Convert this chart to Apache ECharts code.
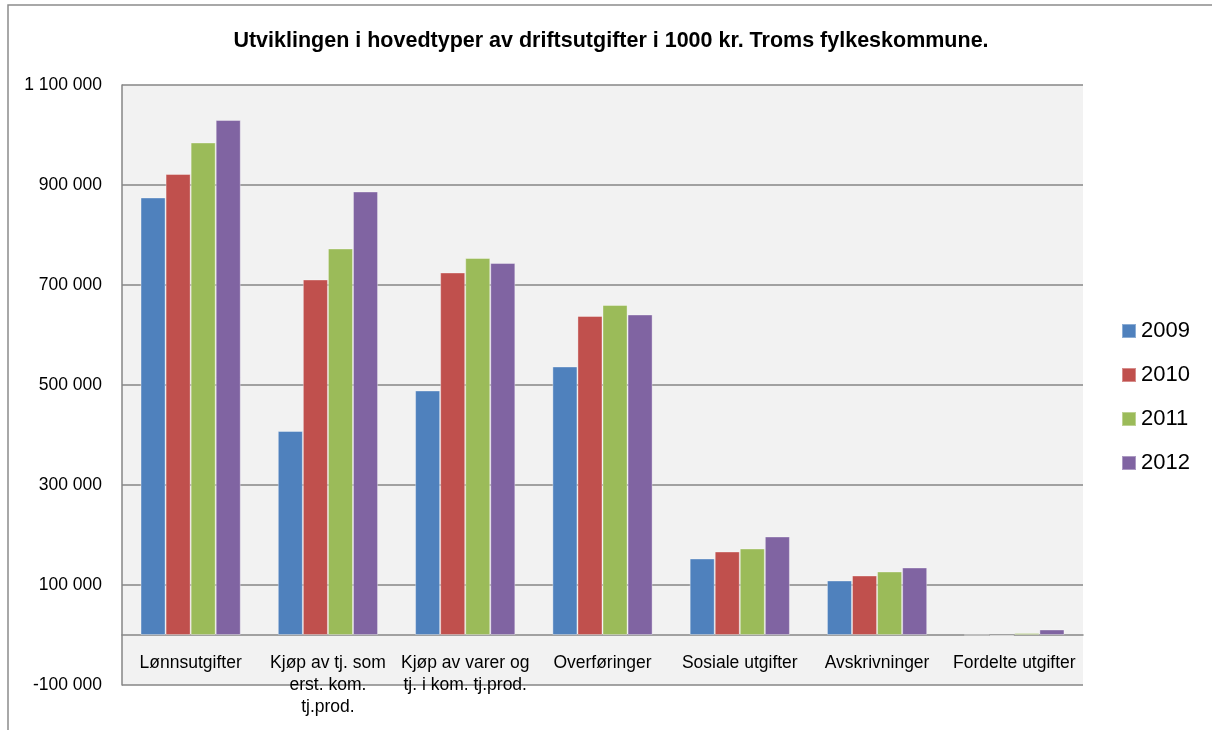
<!DOCTYPE html>
<html>
<head>
<meta charset="utf-8">
<script src="https://cdn.jsdelivr.net/npm/echarts@6/dist/echarts.min.js"></script>
<style>
  html, body { margin: 0; padding: 0; background: #fff; overflow: hidden; }
  #chart { width: 1212px; height: 730px; }
</style>
</head>
<body>
<div id="chart"></div>
<script>
// kategorier og verdier (1000 kr)
const categories = [
  "Lønnsutgifter",
  "Kjøp av tj. som\nerst. kom.\ntj.prod.",
  "Kjøp av varer og\ntj. i kom. tj.prod.",
  "Overføringer",
  "Sosiale utgifter",
  "Avskrivninger",
  "Fordelte utgifter",
];
const years = ["2009", "2010", "2011", "2012"];
const v2009 = [875000, 408000, 489000, 537000, 153000, 109000, 0];
const v2010 = [922000, 711000, 725000, 638000, 167000, 119000, -2000];
const v2011 = [985000, 773000, 754000, 660000, 173000, 127000, 4000];
const v2012 = [1030000, 887000, 744000, 641000, 197000, 135000, 11000];
const yTicks = [-100000, 100000, 300000, 500000, 700000, 900000, 1100000];

const colors = ["#4F81BD", "#C0504D", "#9BBB59", "#8064A2"];
const values = [v2009, v2010, v2011, v2012];
const font = "'Liberation Sans', Arial, sans-serif";

// tall med mellomrom som tusenskille
const fmt = (v) => {
  const neg = v < 0;
  const s = String(Math.abs(v)).replace(/\B(?=(\d{3})+(?!\d))/g, " ");
  return (neg ? "-" : "") + s;
};

const chart = echarts.init(document.getElementById("chart"));

const option = {
  backgroundColor: "#fff",
  animation: false,
  color: colors,
  graphic: [
    {
      type: "rect",
      shape: { x: 8, y: 5, width: 1300, height: 800 },
      style: { fill: "none", stroke: "#8c8c8c", lineWidth: 1.5 },
      silent: true,
    },
  ],
  title: {
    text: "Utviklingen i hovedtyper av driftsutgifter i 1000 kr. Troms fylkeskommune.",
    left: 611,
    textAlign: "center",
    top: 30,
    padding: 0,
    textStyle: { fontFamily: font, fontSize: 21.5, fontWeight: "bold", color: "#000" },
  },
  legend: {
    orient: "vertical",
    left: 1116,
    top: 315,
    itemWidth: 14,
    itemHeight: 14,
    itemGap: 22,
    icon: "rect",
    data: years,
    textStyle: { fontFamily: font, fontSize: 22, color: "#000" },
  },
  grid: {
    left: 122,
    right: 129,
    top: 85,
    bottom: 45,
    show: true,
    backgroundColor: "#F2F2F2",
    borderWidth: 0,
    containLabel: false,
    outerBoundsMode: "none",
  },
  xAxis: {
    type: "category",
    data: categories,
    axisLine: { onZero: true, lineStyle: { color: "#868686", width: 1.5 } },
    axisTick: { show: false },
    axisLabel: {
      fontFamily: font,
      fontSize: 17.5,
      color: "#000",
      lineHeight: 22,
      margin: -33,
      interval: 0,
    },
  },
  yAxis: {
    type: "value",
    min: -100000,
    max: 1100000,
    axisLine: { show: true, lineStyle: { color: "#868686", width: 1.5 } },
    axisTick: { show: false, customValues: yTicks },
    axisLabel: {
      customValues: yTicks,
      fontFamily: font,
      fontSize: 17.5,
      color: "#000",
      margin: 20,
      formatter: (v) => fmt(v),
    },
    splitLine: { show: true, lineStyle: { color: "#868686", width: 1.5 } },
  },
  series: years.map((y, i) => ({
    name: y,
    type: "bar",
    data: values[i],
    barGap: "0%",
    barCategoryGap: "27%",
    itemStyle: { color: colors[i], borderColor: "rgba(255,255,255,0.35)", borderWidth: 1 },
  })),
};

chart.setOption(option);
</script>
</body>
</html>
